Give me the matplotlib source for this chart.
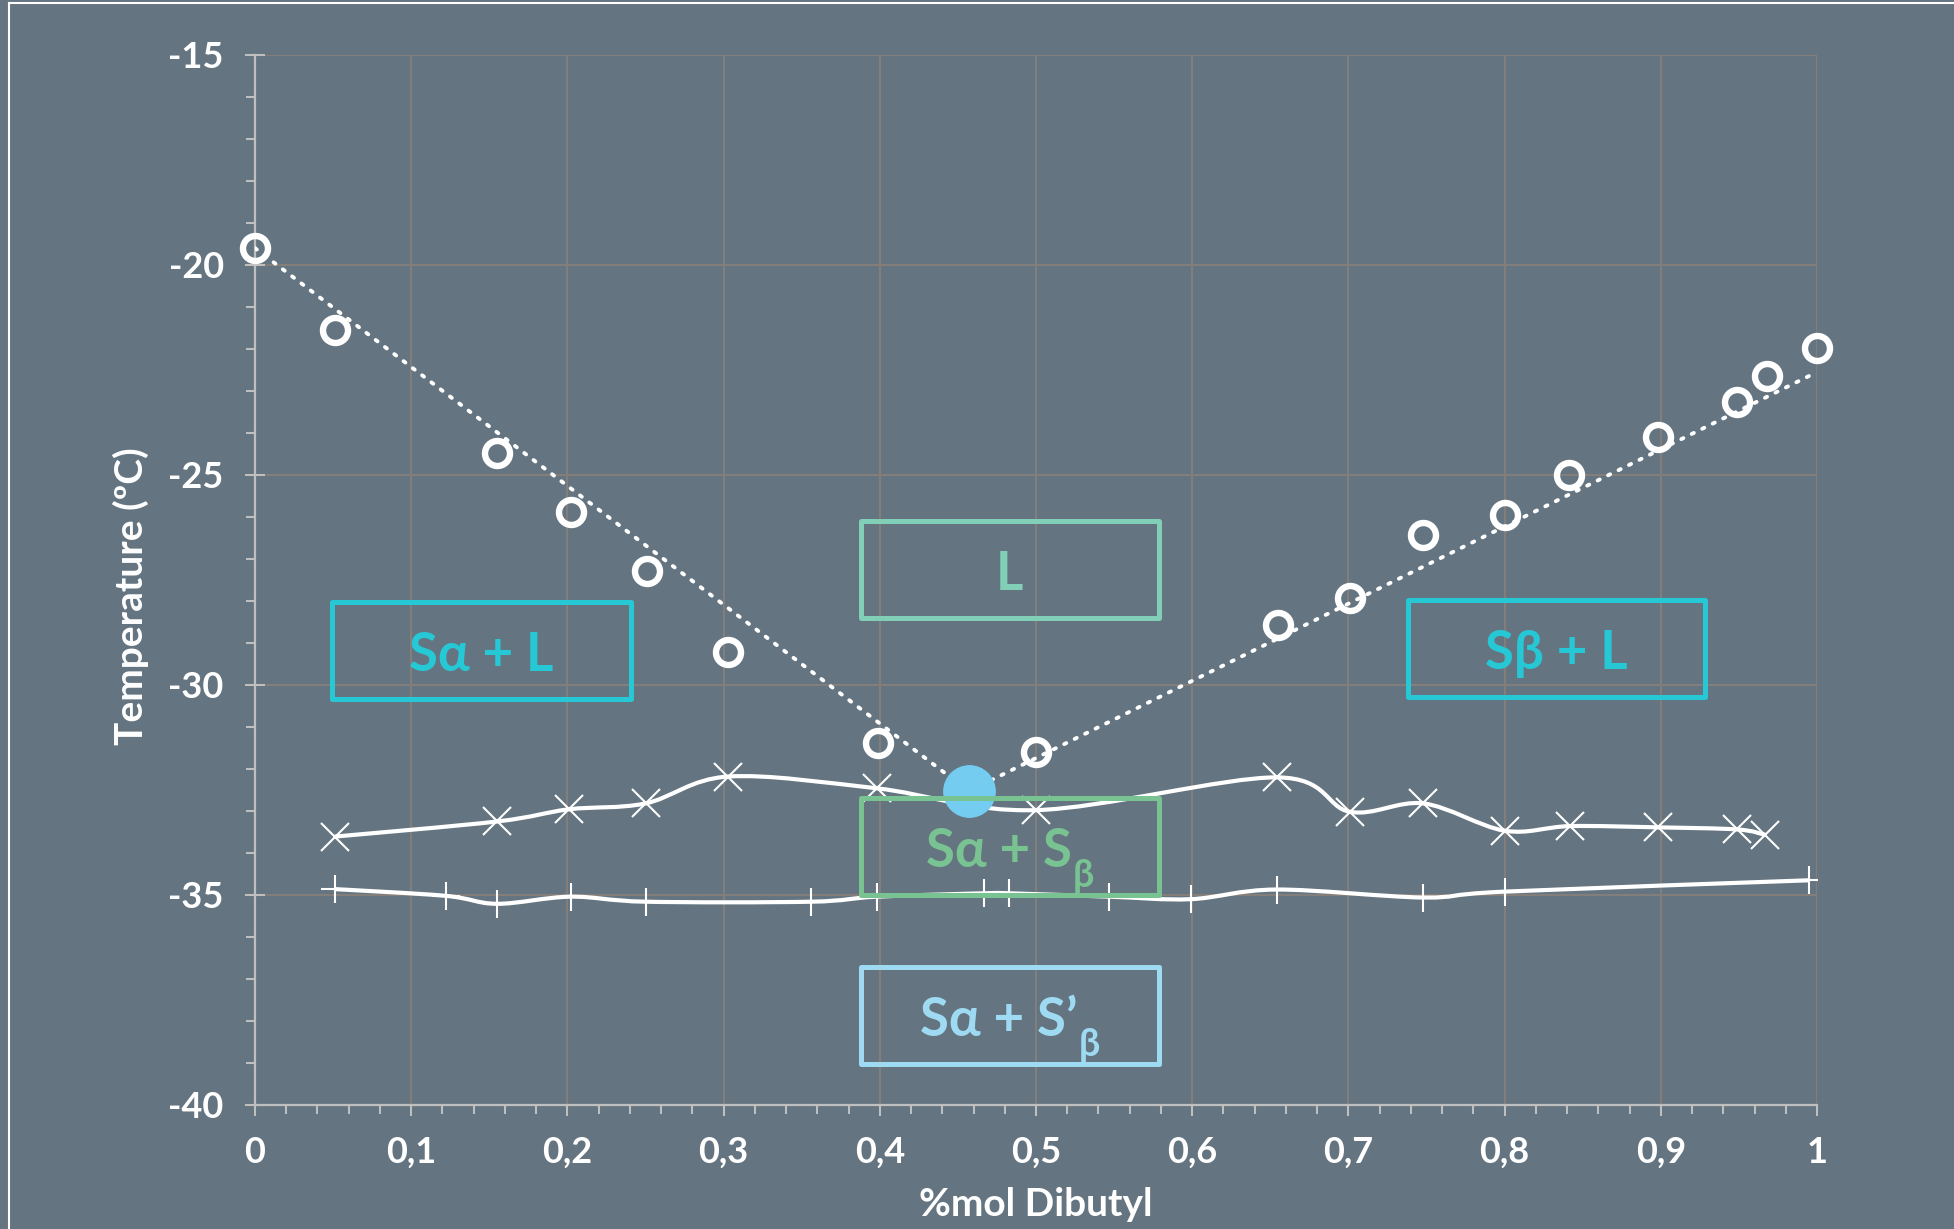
import numpy as np
import matplotlib.pyplot as plt
from matplotlib.path import Path
from matplotlib.patches import PathPatch, Rectangle
from matplotlib.lines import Line2D
from matplotlib.ticker import MultipleLocator

plt.rcParams['font.family'] = ['Lato', 'Noto Sans', 'DejaVu Sans']
plt.rcParams['font.weight'] = 'bold'

# liquidus points (open circles)
liq_x = [0, 0.051, 0.155, 0.202, 0.251, 0.303, 0.399, 0.50, 0.655, 0.701, 0.748,
         0.80, 0.841, 0.898, 0.949, 0.968, 1.0]
liq_t = [-19.6, -21.55, -24.48, -25.88, -27.28, -29.22, -31.38, -31.6, -28.57, -27.92,
         -26.44, -25.95, -25.0, -24.1, -23.27, -22.64, -21.97]

# eutectic point
eut_x = [0.457]
eut_t = [-32.53]

# dotted guide lines meeting at the eutectic
guide_x = [0, 0.457, 1.0]
guide_t = [-19.6, -32.53, -22.55]

# solidus (crosses)
cross_x = [0.051, 0.155, 0.201, 0.250, 0.303, 0.398, 0.50, 0.654, 0.701, 0.748, 0.80,
           0.842, 0.898, 0.949, 0.967]
cross_t = [-33.61, -33.25, -32.96, -32.82, -32.18, -32.46, -32.98, -32.2, -33.02, -32.82,
           -33.47, -33.36, -33.39, -33.44, -33.57]

# lower transition (plus)
plus_x = [0.051, 0.122, 0.155, 0.202, 0.250, 0.356, 0.398, 0.467, 0.483, 0.547, 0.599,
          0.654, 0.748, 0.80, 0.995]
plus_t = [-34.86, -35.02, -35.21, -35.04, -35.16, -35.16, -35.04, -34.96, -34.96, -35.04,
          -35.1, -34.87, -35.06, -34.92, -34.65]

x_ticks = [0, 0.1, 0.2, 0.3, 0.4, 0.5, 0.6, 0.7, 0.8, 0.9, 1.0]
x_labels = ['0', '0,1', '0,2', '0,3', '0,4', '0,5', '0,6', '0,7', '0,8', '0,9', '1']
y_ticks = [-40, -35, -30, -25, -20, -15]
y_labels = ['-40', '-35', '-30', '-25', '-20', '-15']

# region labels: main text, subscript, colour
regions = ['L', 'Sα + L', 'Sβ + L', 'Sα + S', 'Sα + S’']
region_subs = ['', '', '', 'β', 'β']
region_colors = ['#80cfb6', '#26c8d6', '#26c8d6', '#79c291', '#9edaf2']

BG = '#647480'
GRID = '#857f7a'


def smooth_path(xs, ys):
    # Catmull-Rom style bezier through the points (like a smoothed spreadsheet line)
    p = np.column_stack([xs, ys])
    n = len(p)
    verts = [p[0]]
    codes = [Path.MOVETO]
    for i in range(n - 1):
        p0 = p[i - 1] if i > 0 else p[i]
        p3 = p[i + 2] if i + 2 < n else p[i + 1]
        c1 = p[i] + (p[i + 1] - p0) / 6
        c2 = p[i + 1] - (p3 - p[i]) / 6
        verts += [c1, c2, p[i + 1]]
        codes += [Path.CURVE4] * 3
    return Path(verts, codes)


fig = plt.figure(figsize=(19.54, 12.29), dpi=100, facecolor=BG)
ax = fig.add_axes([0.1305, 0.1009, 0.7994, 0.8544])
ax.set_facecolor(BG)

# smoothed white lines
for xs, ys in [(cross_x, cross_t), (plus_x, plus_t)]:
    ax.add_patch(PathPatch(smooth_path(xs, ys), fill=False, edgecolor='white',
                           lw=3, zorder=3))
ax.plot(cross_x, cross_t, 'x', color='white', ms=20, mew=1.5, zorder=4)
ax.plot(plus_x, plus_t, '+', color='white', ms=20, mew=1.5, zorder=4)

# liquidus
ax.plot(guide_x, guide_t, color='white', lw=2.8, ls=(0, (0.6, 2.4)),
        dash_capstyle='round', zorder=3)
ax.plot(liq_x, liq_t, 'o', mfc='none', mec='white', ms=18, mew=4.6, zorder=5,
        clip_on=False)
ax.plot(eut_x, eut_t, 'o', color='#74ccf0', ms=37, zorder=6)

# region boxes
box_pos = [(0.3880, -28.41, 0.5785, -26.09),
           (0.0494, -30.34, 0.2408, -28.02),
           (0.7380, -30.28, 0.9285, -27.98),
           (0.3880, -35.00, 0.5785, -32.69),
           (0.3880, -39.03, 0.5785, -36.71)]
for (x0, y0, x1, y1), txt, sub, col in zip(box_pos, regions, region_subs, region_colors):
    ax.add_patch(Rectangle((x0, y0), x1 - x0, y1 - y0, fill=False, edgecolor=col,
                           lw=3.6, joinstyle='round', zorder=7))
    cx = (x0 + x1) / 2 - (0.007 if sub else 0)
    base = (y0 + y1) / 2 - 0.48
    t = ax.text(cx, base, txt, color=col, fontsize=38, fontweight='bold',
                ha='center', va='baseline', zorder=8)
    if sub:
        ax.annotate(sub, xy=(1, 0), xycoords=t, xytext=(1, 12), textcoords='offset points',
                    color=col, fontsize=27, fontweight='bold', ha='left', va='top',
                    zorder=8)

# axes styling
ax.set_xlim(0, 1)
ax.set_ylim(-40, -15)
ax.set_xticks(x_ticks)
ax.set_xticklabels(x_labels)
ax.set_yticks(y_ticks)
ax.set_yticklabels(y_labels)
ax.xaxis.set_minor_locator(MultipleLocator(0.02))
ax.yaxis.set_minor_locator(MultipleLocator(1))
ax.grid(True, which='major', color=GRID, lw=1.4)
ax.set_axisbelow(True)
for s in ['top', 'right']:
    ax.spines[s].set_visible(False)
for s in ['left', 'bottom']:
    ax.spines[s].set_color('#bfbfbf')
    ax.spines[s].set_linewidth(1.6)
ax.tick_params(axis='x', which='major', direction='out', length=8, width=1.5,
               color='#bfbfbf', labelcolor='white', labelsize=26, pad=14)
ax.tick_params(axis='y', which='major', direction='inout', length=15, width=1.5,
               color='#bfbfbf', labelcolor='white', labelsize=26, pad=15)
ax.tick_params(which='minor', direction='out', length=6.5, width=1.5, color='#bfbfbf')
for lab in ax.get_xticklabels() + ax.get_yticklabels():
    lab.set_fontweight('bold')

fig.text(131 / 1954, 1 - 596 / 1229, 'Temperature (ºC)', rotation=90, color='white',
         fontsize=28, fontweight='bold', ha='center', va='center')
fig.text(1036 / 1954, 1 - 1204 / 1229, '%mol Dibutyl', color='white',
         fontsize=28, fontweight='bold', ha='center', va='center')

# frame lines of the original slide
fig.add_artist(Line2D([8.5 / 1954, 1], [1 - 2.5 / 1229, 1 - 2.5 / 1229],
                      transform=fig.transFigure, color='white', lw=1.5))
fig.add_artist(Line2D([8.5 / 1954, 8.5 / 1954], [0, 1 - 2.5 / 1229],
                      transform=fig.transFigure, color='white', lw=1.5))

fig.savefig('out.png', dpi=100, facecolor=BG)
